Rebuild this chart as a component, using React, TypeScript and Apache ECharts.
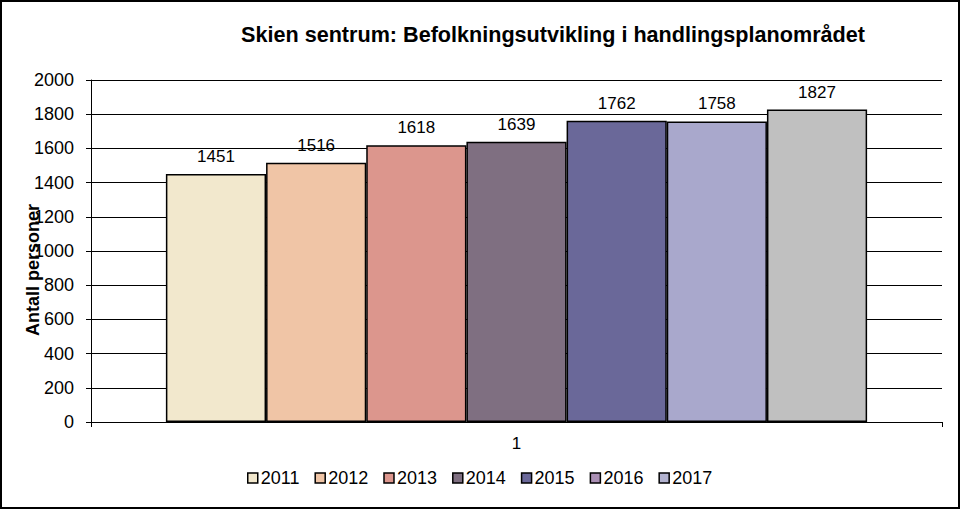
import React, { useEffect, useRef } from "react";
import * as echarts from "echarts";

const categories = ["1"];
const years = ["2011", "2012", "2013", "2014", "2015", "2016", "2017"];
const values = [1451, 1516, 1618, 1639, 1762, 1758, 1827];
const barColors = ["#f2e8cd", "#f0c5a6", "#dc968d", "#7f6f81", "#6a6899", "#a9a8cc", "#c0c0c0"];
const legendColors = ["#f2e8cd", "#f0c5a6", "#dc968d", "#7f6f81", "#6a6899", "#aa8fb4", "#b2b2cf"];
const yTicks = [0, 200, 400, 600, 800, 1000, 1200, 1400, 1600, 1800, 2000];

const FONT = "'Liberation Sans', Arial, sans-serif";

export default function App() {
  const ref = useRef<HTMLDivElement>(null);
  useEffect(() => {
    if (!ref.current) return;
    const chart = echarts.init(ref.current, null, { renderer: "svg" });
    chart.setOption({
      animation: false,
      backgroundColor: "#ffffff",
      textStyle: { fontFamily: FONT },
      title: {
        text: "Skien sentrum: Befolkningsutvikling i handlingsplanområdet",
        left: 548,
        textAlign: "center",
        top: 18,
        textStyle: { fontFamily: FONT, fontSize: 21.6, fontWeight: "bold", color: "#000" },
      },
      grid: { left: 91, right: 18, top: 80, bottom: 87, containLabel: false },
      legend: {
        bottom: 17,
        left: 242,
        itemWidth: 10,
        itemHeight: 10,
        itemGap: 15,
        icon: "rect",
        textStyle: { fontFamily: FONT, fontSize: 18, color: "#000", padding: [0, 0, 0, -2] },
        data: years.map((y, i) => ({
          name: y,
          itemStyle: { color: legendColors[i], borderColor: "#000", borderWidth: 1.5 },
        })),
      },
      xAxis: {
        type: "category",
        data: categories,
        axisLine: { lineStyle: { color: "#000", width: 1 } },
        axisTick: { show: true, length: 5, lineStyle: { color: "#000" } },
        axisLabel: { fontFamily: FONT, fontSize: 17, color: "#000", margin: 13 },
      },
      yAxis: {
        type: "value",
        min: yTicks[0],
        max: yTicks[yTicks.length - 1],
        interval: 200,
        axisLine: { show: true, lineStyle: { color: "#000", width: 1 } },
        axisTick: { show: true, length: 5, lineStyle: { color: "#000" } },
        axisLabel: {
          fontFamily: FONT,
          fontSize: 18,
          color: "#000",
          margin: 17,
          formatter: (v: number) => String(v),
        },
        splitLine: { show: true, lineStyle: { color: "#000", width: 1 } },
      },
      series: years.map((y, i) => ({
        name: y,
        type: "bar",
        data: [values[i]],
        barGap: "0%",
        barCategoryGap: "17.6%",
        itemStyle: { color: barColors[i], borderColor: "#000", borderWidth: 1.5 },
        label: {
          show: true,
          position: "top",
          distance: 9,
          fontFamily: FONT,
          fontSize: 17,
          color: "#000",
        },
      })),
      graphic: [
        {
          type: "text",
          x: 33,
          y: 270,
          rotation: Math.PI / 2,
          style: {
            text: "Antall personer",
            fontFamily: FONT,
            fontSize: 18,
            fontWeight: "bold",
            fill: "#000",
            textAlign: "center",
            textVerticalAlign: "middle",
          },
        },
        {
          type: "rect",
          shape: { x: 1, y: 1, width: 958, height: 507 },
          style: { fill: "none", stroke: "#000", lineWidth: 2 },
          silent: true,
        },
      ],
    });
    return () => chart.dispose();
  }, []);
  return (
    <div
      ref={ref}
      style={{ position: "fixed", left: 0, top: 0, width: 960, height: 509 }}
    />
  );
}
